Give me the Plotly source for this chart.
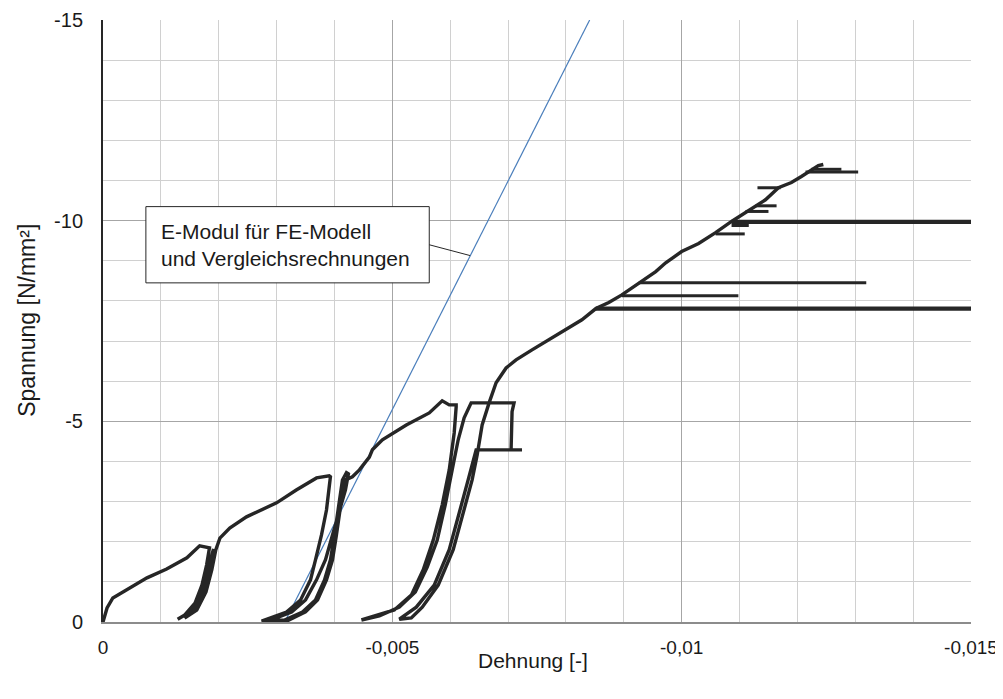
import plotly.graph_objects as go

# ---------------- data (strain [-], stress [N/mm²]) ----------------
load1_strain = [0, -0.00007, -0.00017, -0.00041, -0.00076, -0.00110, -0.00145, -0.00167, -0.00176, -0.00184]
load1_stress = [0, -0.35, -0.60, -0.80, -1.10, -1.32, -1.60, -1.90, -1.87, -1.85]

cyc1_strain = [-0.00179, -0.00171, -0.00159, -0.00141, -0.00129,
               -0.00150, -0.00167, -0.00179, -0.00188, -0.00191,
               -0.00184, -0.00174, -0.00160, -0.00141,
               -0.00162, -0.00178, -0.00188, -0.00195, -0.00202]
cyc1_stress = [-1.42, -0.92, -0.47, -0.17, -0.07,
               -0.25, -0.67, -1.17, -1.67, -1.82,
               -1.35, -0.80, -0.37, -0.10,
               -0.30, -0.75, -1.30, -1.80, -2.09]

load2_strain = [-0.00219, -0.00248, -0.00300, -0.00334, -0.00369, -0.00391, -0.00393]
load2_stress = [-2.34, -2.62, -2.97, -3.29, -3.59, -3.64, -3.62]

cyc2_strain = [-0.003862, -0.003776, -0.003672, -0.003586, -0.003414, -0.003172, -0.002741,
               -0.003138, -0.003448, -0.003672, -0.003828, -0.003931, -0.004000, -0.004086, -0.004138, -0.004207,
               -0.004241, -0.004190, -0.004086, -0.003966, -0.003845, -0.003690, -0.003500, -0.003259, -0.002845,
               -0.003172, -0.003500, -0.003707, -0.003862, -0.003966, -0.004034, -0.004121, -0.004190, -0.004310,
               -0.004431, -0.004603]
cyc2_stress = [-2.79, -2.17, -1.55, -1.05, -0.55, -0.25, -0.02,
               -0.05, -0.25, -0.55, -1.05, -1.55, -2.17, -3.04, -3.54, -3.72,
               -3.69, -3.29, -2.79, -2.17, -1.55, -1.05, -0.55, -0.25, -0.02,
               -0.02, -0.25, -0.55, -1.05, -1.55, -2.17, -3.04, -3.54, -3.62,
               -3.79, -4.11]

load3_strain = [-0.004655, -0.004828, -0.005241, -0.005638, -0.005862, -0.005983, -0.006103]
load3_stress = [-4.29, -4.54, -4.91, -5.21, -5.51, -5.41, -5.41]

cyc3_strain = [-0.006103, -0.006069, -0.005983, -0.005862, -0.005707, -0.005534, -0.005328, -0.005034, -0.004466,
               -0.004776, -0.005121, -0.005397, -0.005603, -0.005776, -0.005914, -0.006034, -0.006138, -0.006241, -0.006362]
cyc3_stress = [-5.36, -4.71, -3.79, -2.92, -2.04, -1.30, -0.67, -0.30, -0.05,
               -0.15, -0.37, -0.75, -1.37, -2.04, -2.92, -3.79, -4.54, -5.09, -5.46]

hold_strain = [-0.007103, -0.007069, -0.007052, -0.007241, -0.006448]
hold_stress = [-5.46, -5.24, -4.29, -4.29, -4.29]

cyc4_strain = [-0.006310, -0.006172, -0.005983, -0.005724, -0.005414, -0.005121,
               -0.005328, -0.005517, -0.005793, -0.006052, -0.006241, -0.006379, -0.006466, -0.006552,
               -0.006672, -0.006793, -0.006966]
cyc4_stress = [-3.54, -2.79, -1.80, -0.92, -0.37, -0.07,
               -0.10, -0.37, -0.92, -1.80, -2.79, -3.54, -4.16, -4.91,
               -5.46, -5.96, -6.33]

load4_strain = [-0.007138, -0.007414, -0.007707, -0.008000, -0.008276, -0.008517, -0.008741, -0.008966,
                -0.009259, -0.009552, -0.009724, -0.010000, -0.010293, -0.010586, -0.010862, -0.011103,
                -0.011448, -0.011672, -0.011897, -0.012069, -0.012241, -0.012362, -0.012448]
load4_stress = [-6.53, -6.78, -7.03, -7.28, -7.53, -7.81, -7.96, -8.15,
                -8.45, -8.73, -8.95, -9.23, -9.43, -9.70, -9.98, -10.20,
                -10.52, -10.82, -10.95, -11.10, -11.27, -11.37, -11.40]

# horizontal jumps (stress level, start strain, end strain)
jump_stress = [-8.13, -8.45, -9.67, -9.88, -10.23, -10.37, -10.82, -11.21, -11.28]
jump_start  = [-0.008966, -0.009259, -0.010586, -0.010862, -0.011103, -0.011280, -0.011310, -0.012140, -0.012240]
jump_end    = [-0.010980, -0.013190, -0.011090, -0.011160, -0.011500, -0.011640, -0.011710, -0.013050, -0.012760]

big_jump_stress = [-7.81, -9.97]
big_jump_start  = [-0.008517, -0.010862]
big_jump_end    = [-0.015300, -0.015300]

# E-modulus line
emod_strain = [-0.00314, -0.00841]
emod_stress = [0, -15]

x_tickvals = [0, -0.005, -0.01, -0.015]
x_ticktext = ["0", "-0,005", "-0,01", "-0,015"]
y_tickvals = [0, -5, -10, -15]
y_ticktext = ["0", "-5", "-10", "-15"]

# ---------------- figure ----------------
main_x = load1_strain + cyc1_strain + load2_strain + cyc2_strain + load3_strain + cyc3_strain + hold_strain + cyc4_strain + load4_strain
main_y = load1_stress + cyc1_stress + load2_stress + cyc2_stress + load3_stress + cyc3_stress + hold_stress + cyc4_stress + load4_stress

def segs(levels, starts, ends):
    xs, ys = [], []
    for s, a, b in zip(levels, starts, ends):
        xs += [a, b, None]
        ys += [s, s, None]
    return xs, ys

jx, jy = segs(jump_stress, jump_start, jump_end)
bx, by = segs(big_jump_stress, big_jump_start, big_jump_end)

CURVE = "#262626"
fig = go.Figure()
fig.add_trace(go.Scatter(x=emod_strain, y=emod_stress, mode="lines",
                         line=dict(color="#4a7ebb", width=1.2), hoverinfo="skip"))
fig.add_trace(go.Scatter(x=main_x, y=main_y, mode="lines",
                         line=dict(color=CURVE, width=3.4), hoverinfo="skip"))
fig.add_trace(go.Scatter(x=jx, y=jy, mode="lines",
                         line=dict(color=CURVE, width=3), hoverinfo="skip"))
fig.add_trace(go.Scatter(x=bx, y=by, mode="lines",
                         line=dict(color=CURVE, width=4.2), hoverinfo="skip"))

FONT = "Liberation Sans, Arial, sans-serif"

# the page places the figure 8 px from the top-left corner
fig.update_layout(
    template="none",
    width=995, height=691, autosize=False,
    margin=dict(l=95, r=32, t=12, b=77, pad=0),
    plot_bgcolor="white", paper_bgcolor="white",
    showlegend=False,
    font=dict(family=FONT, size=20, color="#1a1a1a"),
    xaxis=dict(range=[0, -0.015], tickmode="array", tickvals=x_tickvals, ticktext=x_ticktext,
               automargin=False, ticklabeloverflow="allow",
               showgrid=True, gridcolor="#a6a6a6", gridwidth=1,
               minor=dict(tickmode="linear", tick0=0, dtick=0.001, showgrid=True,
                          gridcolor="#d0d0d0", gridwidth=1, ticks=""),
               zeroline=False, showline=True, linecolor="#8c8c8c", linewidth=2,
               ticks="", ticklabelstandoff=7, tickfont=dict(size=19)),
    yaxis=dict(range=[0, -15], tickmode="array", tickvals=y_tickvals, ticktext=y_ticktext,
               automargin=False, ticklabeloverflow="allow",
               showgrid=True, gridcolor="#a6a6a6", gridwidth=1,
               minor=dict(tickmode="linear", tick0=0, dtick=1, showgrid=True,
                          gridcolor="#d0d0d0", gridwidth=1, ticks=""),
               zeroline=False, showline=True, linecolor="#262626", linewidth=2,
               ticks="", ticklabelstandoff=14, tickfont=dict(size=20)),
)

# annotation box + connector
fig.add_shape(type="rect", xref="x", yref="y", x0=-0.000741, x1=-0.005638, y0=-10.35, y1=-8.45,
              line=dict(color="#262626", width=1), fillcolor="white", layer="above")
fig.add_shape(type="line", xref="x", yref="y", x0=-0.005638, y0=-9.40, x1=-0.006345, y1=-9.13,
              line=dict(color="#262626", width=1), layer="above")
fig.add_annotation(x=-0.000960, y=-9.40, xref="x", yref="y", xanchor="left", yanchor="middle",
                   align="left", showarrow=False,
                   text="E-Modul für FE-Modell<br>und Vergleichsrechnungen",
                   font=dict(family=FONT, size=21, color="#1a1a1a"))

# axis titles
fig.add_annotation(x=0.495, y=-0.064, xref="paper", yref="paper", xanchor="center", yanchor="middle",
                   showarrow=False, text="Dehnung [-]",
                   font=dict(family=FONT, size=21, color="#1a1a1a"))
fig.add_annotation(x=-0.0876, y=0.502, xref="paper", yref="paper", xanchor="center", yanchor="middle",
                   showarrow=False, text="Spannung [N/mm²]", textangle=-90,
                   font=dict(family=FONT, size=23, color="#1a1a1a"))

fig.write_html("out.html")
